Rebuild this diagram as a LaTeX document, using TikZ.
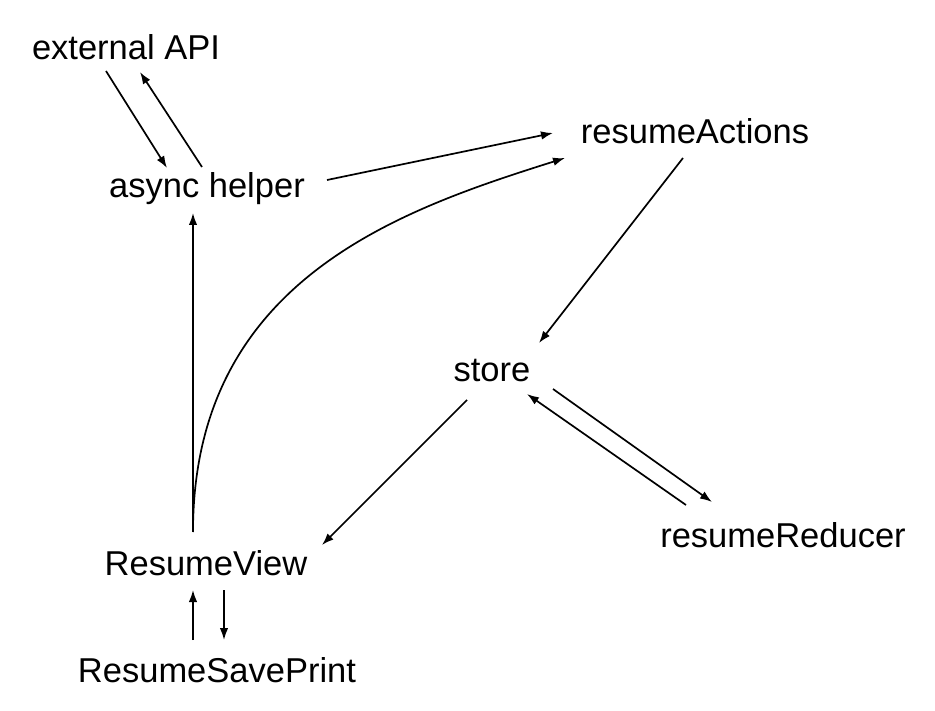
\documentclass[tikz,border=0pt]{standalone}
\usepackage{fontspec}
\setmainfont{Liberation Sans}
\usetikzlibrary{arrows.meta, calc}

\begin{document}
\begin{tikzpicture}[x=1pt, y=-1pt,
                    lbl/.style={inner sep=0pt, anchor=base, font=\fontsize{34.5}{40}\selectfont},
                    arr/.style={-{Latex[length=12pt, width=8.5pt]}, line width=1.7pt}]
                    \useasboundingbox (0,0) rectangle (935,711);
                    \node[lbl] (ext) at (126,60) {external API};
                    \node[lbl] (async) at (207,198) {async helper};
                    \node[lbl] (actions) at (695,144) {resumeActions};
                    \node[lbl] (store) at (492,382) {store};
                    \node[lbl] (reducer) at (783,547) {resumeReducer};
                    \node[lbl] (view) at (206,575) {ResumeView};
                    \node[lbl] (saveprint) at (217,682) {ResumeSavePrint};
                    % async helper <-> external API
                    \draw[arr] ([shift={(-20,11)}]ext.base) -- ([shift={(-40,-30)}]async.base);
                    \draw[arr] ([shift={(-5,-31)}]async.base) -- ([shift={(14,12)}]ext.base);
                    \draw[arr] ([shift={(120,-18)}]async.base) -- ([shift={(-142,-11)}]actions.base);
                    % ResumeView up to async helper and actions
                    \draw[arr] ([shift={(-13,-43)}]view.base) -- ([shift={(-14,15)}]async.base);
                    \draw[arr] ([shift={(-13,-43)}]view.base) .. controls ([shift={(-13,-295)}]view.base) and ([shift={(-295,66)}]actions.base) .. ([shift={(-130,14)}]actions.base);
                    % flux loop
                    \draw[arr] ([shift={(-12,14)}]actions.base) -- ([shift={(47,-39)}]store.base);
                    \draw[arr] ([shift={(-25,18)}]store.base) -- ([shift={(116,-30)}]view.base);
                    \draw[arr] ([shift={(61,7)}]store.base) -- ([shift={(-71,-45)}]reducer.base);
                    \draw[arr] ([shift={(-97,-42)}]reducer.base) -- ([shift={(35,12)}]store.base);
                    % ResumeView <-> ResumeSavePrint
                    \draw[arr] ([shift={(-24,-42)}]saveprint.base) -- ([shift={(-13,15)}]view.base);
                    \draw[arr] ([shift={(18,15)}]view.base) -- ([shift={(7,-42)}]saveprint.base);
\end{tikzpicture}
\end{document}
